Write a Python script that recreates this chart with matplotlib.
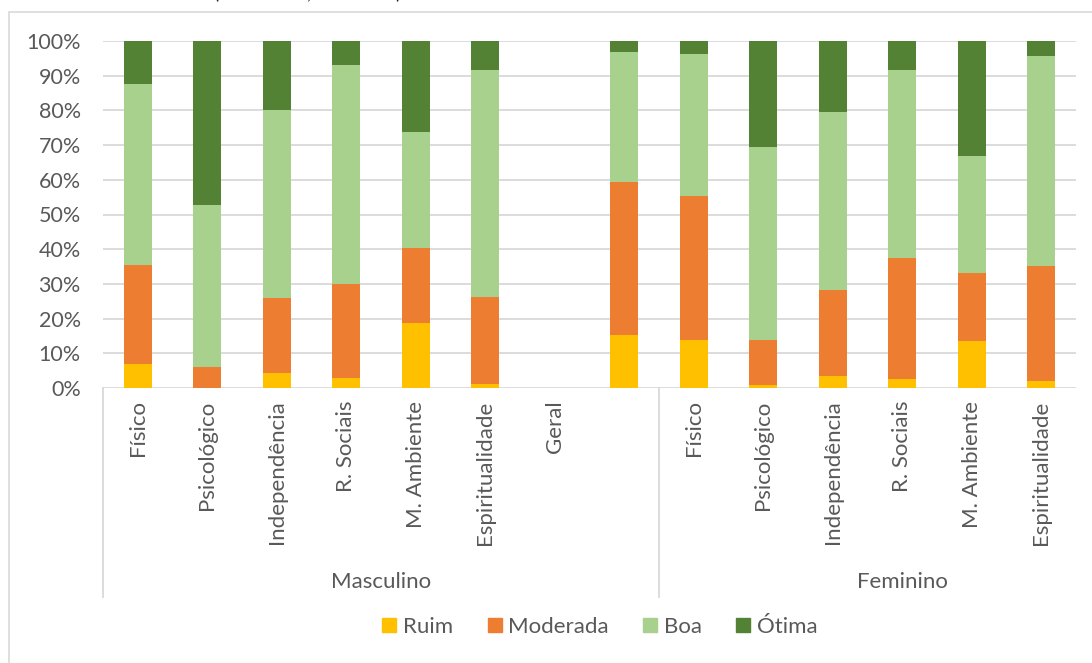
import numpy as np
import matplotlib
matplotlib.use("Agg")
import matplotlib.pyplot as plt
from matplotlib.patches import Rectangle, Patch
from matplotlib.transforms import blended_transform_factory

plt.rcParams['font.family'] = ['Lato', 'DejaVu Sans']

# categorias (Masculino: 8 posições, Feminino: 6)
categorias = ['Físico', 'Psicológico', 'Independência', 'R. Sociais', 'M. Ambiente',
              'Espiritualidade', 'Geral', '',
              'Físico', 'Psicológico', 'Independência', 'R. Sociais', 'M. Ambiente',
              'Espiritualidade']
grupos = ['Masculino', 'Feminino']

# percentuais por nível
ruim     = [7.0, 0.0, 4.2, 3.0, 18.8, 1.1, 0, 15.3, 13.7, 0.8, 3.5, 2.5, 13.5, 1.9]
moderada = [28.4, 6.1, 21.8, 26.9, 21.6, 25.1, 0, 44.1, 41.7, 13.1, 24.8, 35.0, 19.7, 33.3]
boa      = [52.1, 46.5, 54.0, 63.3, 33.4, 65.4, 0, 37.4, 40.9, 55.5, 51.3, 54.1, 33.8, 60.5]
otima    = [12.5, 47.4, 20.0, 6.8, 26.2, 8.4, 0, 3.2, 3.7, 30.6, 20.4, 8.4, 33.0, 4.3]

series = [('Ruim', ruim, '#FFC000'),
          ('Moderada', moderada, '#ED7D31'),
          ('Boa', boa, '#A9D18E'),
          ('Ótima', otima, '#548235')]

FS = 16
W, H = 1092, 663
fig = plt.figure(figsize=(W / 100, H / 100), dpi=100)
ax = fig.add_axes([103 / W, 1 - 388 / H, (1076 - 103) / W, (388 - 41) / H])

x = np.arange(len(categorias))
base = np.zeros(len(categorias))
for nome, vals, cor in series:
    vals = np.array(vals) / 100.0
    ax.bar(x, vals, width=0.4, bottom=base, color=cor, label=nome, zorder=3)
    base += vals

ax.set_xlim(-0.5, len(categorias) - 0.5)
ax.set_ylim(0, 1)
ax.set_yticks(np.arange(0, 1.01, 0.1))
ax.set_yticklabels([f'{int(round(v * 100))}%' for v in np.arange(0, 1.01, 0.1)])
ax.set_xticks(x)
ax.set_xticklabels(categorias, rotation=90, va='top', ha='center')
ax.tick_params(axis='both', length=0, colors='#595959', labelsize=FS)
ax.tick_params(axis='y', pad=16, labelsize=15.5)
ax.tick_params(axis='x', pad=9)
ax.yaxis.grid(True, color='#D9D9D9', lw=1.3, zorder=0)
for s in ax.spines.values():
    s.set_visible(False)

# separadores e rótulos dos grupos
trans = blended_transform_factory(ax.transData, ax.transAxes)
for xs in [-0.5, 7.5]:
    ax.plot([xs, xs], [0, -(597 - 388) / 347], color='#D9D9D9', lw=1.3,
            transform=trans, clip_on=False)
ax.text(3.5, -(582 - 388) / 347, grupos[0], transform=trans, ha='center', va='center',
        fontsize=FS, color='#595959')
ax.text(11, -(582 - 388) / 347, grupos[1], transform=trans, ha='center', va='center',
        fontsize=FS, color='#595959')

handles = [Patch(color=c, label=n) for n, _, c in series]
fig.legend(handles=handles, loc='center', bbox_to_anchor=(600 / W, 1 - 627 / H), ncol=4,
           frameon=False, fontsize=FS, labelcolor='#595959', handlelength=0.63,
           handleheight=0.63, handletextpad=0.3, columnspacing=1.55)

# moldura do gráfico
fig.patches.append(Rectangle((9 / W, -0.1), 1.2, 1.1 - 12 / H, transform=fig.transFigure,
                             fill=False, edgecolor='#D9D9D9', lw=1.2))

fig.text(308 / W, 1 + 1.5 / H, '(Masculino, Feminino)', ha='center', va='baseline',
         fontsize=14, color='#262626')

fig.savefig('out.png', dpi=100)
